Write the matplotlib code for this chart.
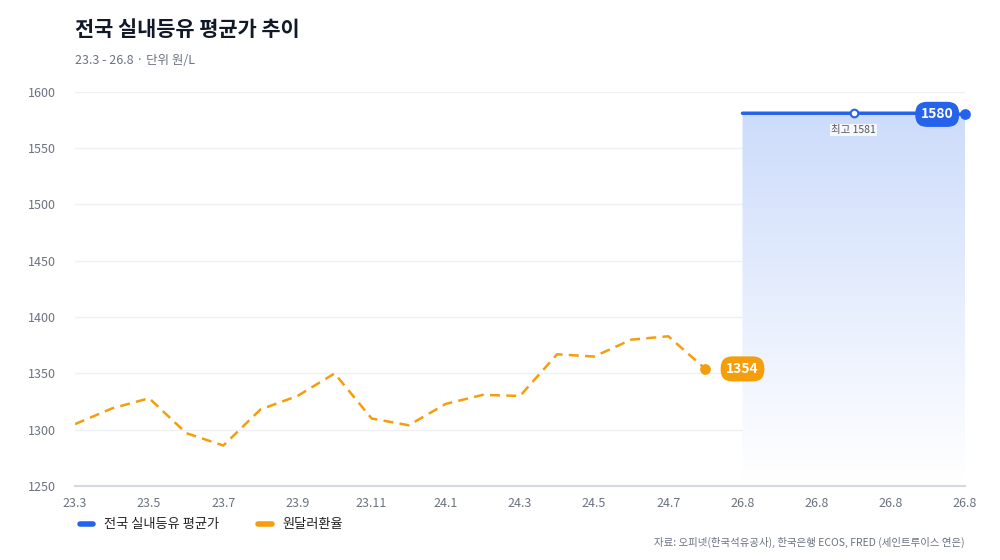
import numpy as np
import matplotlib
matplotlib.use("Agg")
import matplotlib.pyplot as plt
from matplotlib.colors import LinearSegmentedColormap

plt.rcParams["font.family"] = ["Noto Sans CJK KR", "DejaVu Sans"]

labels = ["23.3", "23.4", "23.5", "23.6", "23.7", "23.8", "23.9", "23.10", "23.11", "23.12",
          "24.1", "24.2", "24.3", "24.4", "24.5", "24.6", "24.7", "24.8",
          "26.8", "26.8", "26.8", "26.8", "26.8", "26.8", "26.8"]
fx_idx = list(range(18))
fx = [1305, 1319, 1328, 1297, 1286, 1318, 1330, 1350, 1310, 1304,
      1323, 1331, 1330, 1367, 1365, 1380, 1383, 1354]
oil_idx = list(range(18, 25))
oil = [1581, 1581, 1581, 1581, 1581, 1581, 1580]

BLUE = "#2563eb"
ORANGE = "#f59e0b"

fig = plt.figure(figsize=(10, 5.6), dpi=100)
ax = fig.add_axes([0.075, 0.132, 0.89, 0.704])
ax.set_xlim(0, 24)
ax.set_ylim(1250, 1600)

# gradient fill under oil line
cmap = LinearSegmentedColormap.from_list("g", ["#ffffff", "#cddcfb"])
grad = np.linspace(0, 1, 256).reshape(-1, 1)
im = ax.imshow(grad, aspect="auto", cmap=cmap, origin="lower",
               extent=[oil_idx[0], oil_idx[-1], 1255, max(oil)], zorder=1)
poly = ax.fill_between(oil_idx, oil, 1255, color="none")
im.set_clip_path(poly.get_paths()[0], transform=ax.transData)

ax.plot(oil_idx, oil, color=BLUE, lw=2.5, zorder=3, solid_capstyle="round")
ax.plot(fx_idx, fx, color=ORANGE, lw=1.8, ls=(0, (4, 2.5)), zorder=3)
ax.scatter([fx_idx[-1]], [fx[-1]], s=45, color=ORANGE, zorder=4, clip_on=False)
ax.scatter([oil_idx[-1]], [oil[-1]], s=45, color=BLUE, zorder=4, clip_on=False)
ax.scatter([21], [1581], s=30, color="white", edgecolor=BLUE, lw=1.5, zorder=5)
ax.text(21, 1566, "최고 1581", ha="center", va="center", fontsize=7.5, color="#555555",
        bbox=dict(boxstyle="square,pad=0.1", fc="white", ec="none", alpha=0.8), zorder=5)

ax.text(fx_idx[-1] + 1.0, fx[-1], str(fx[-1]), ha="center", va="center", fontsize=10,
        fontweight="bold", color="white", zorder=6,
        bbox=dict(boxstyle="round,pad=0.4,rounding_size=0.85", fc=ORANGE, ec="none"))
ax.text(oil_idx[-1] - 0.75, oil[-1], str(oil[-1]), ha="center", va="center", fontsize=10,
        fontweight="bold", color="white", zorder=6,
        bbox=dict(boxstyle="round,pad=0.4,rounding_size=0.85", fc=BLUE, ec="none"))

ax.set_yticks(range(1250, 1601, 50))
ax.set_xticks(range(0, 25, 2))
ax.set_xticklabels(labels[::2])
ax.grid(axis="y", color="#eef0f4", lw=1)
ax.set_axisbelow(True)
for s in ["top", "right", "left"]:
    ax.spines[s].set_visible(False)
ax.spines["bottom"].set_color("#d5d9e0")
ax.spines["bottom"].set_linewidth(1.5)
ax.tick_params(length=0, labelsize=9, colors="#6b7280", pad=8)
ax.tick_params(axis="y", pad=14)

fig.text(0.075, 0.935, "전국 실내등유 평균가 추이", fontsize=15, fontweight="bold", color="#111827")
fig.text(0.075, 0.885, "23.3 - 26.8 · 단위 원/L", fontsize=9, color="#6b7280")

ax.plot([], [], color=BLUE, lw=4, solid_capstyle="round", label="전국 실내등유 평균가")
ax.plot([], [], color=ORANGE, lw=4, solid_capstyle="round", label="원달러환율")
h, l = ax.get_legend_handles_labels()
fig.legend(h[-2:], l[-2:], loc="lower left", bbox_to_anchor=(0.068, 0.03), ncol=2, frameon=False,
           fontsize=9.5, handlelength=1.0, columnspacing=3.0, labelcolor="#222222")
fig.text(0.965, 0.025, "자료: 오피넷(한국석유공사), 한국은행 ECOS, FRED (세인트루이스 연은)",
         ha="right", fontsize=7.5, color="#6b7280")

fig.savefig("out.png", dpi=100)
